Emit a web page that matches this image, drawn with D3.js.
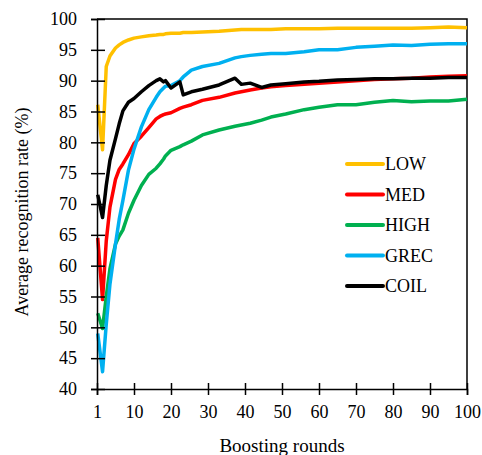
<!DOCTYPE html>
<html>
<head>
<meta charset="utf-8">
<script src="https://cdn.jsdelivr.net/npm/d3@7"></script>
<style>
  body { margin: 0; background: #fff; }
</style>
</head>
<body>
<svg id="chart" width="482" height="455"></svg>
<script>
// boosting round positions on the axis (0 is shown as "1")
const rounds = [0.2, 1.5, 2.5, 3.5, 5, 6, 7, 8.5, 10, 12, 14, 16, 17, 18, 18.5, 20, 22.4, 23.3, 25.5, 28.5, 33, 37.3, 39, 41.4, 44.5, 47, 51, 56, 60, 65, 70, 75, 80, 85, 90, 95, 100]

const low  = [86.1, 78.8, 92.3, 94.0, 95.3, 95.8, 96.2, 96.6, 96.9, 97.1, 97.3, 97.4, 97.5, 97.5, 97.6, 97.7, 97.7, 97.8, 97.8, 97.9, 98.0, 98.2, 98.3, 98.3, 98.3, 98.3, 98.4, 98.4, 98.4, 98.5, 98.5, 98.5, 98.5, 98.5, 98.6, 98.7, 98.6]
const med  = [64.5, 54.5, 64.0, 69.5, 74.0, 75.6, 76.5, 78.0, 79.8, 81.0, 82.4, 83.8, 84.2, 84.5, 84.6, 84.8, 85.5, 85.7, 86.1, 86.8, 87.3, 88.0, 88.2, 88.5, 88.8, 89.0, 89.2, 89.4, 89.6, 89.8, 90.0, 90.2, 90.3, 90.4, 90.6, 90.7, 90.8]
const high = [52.3, 49.8, 55.0, 59.5, 63.5, 64.8, 65.8, 68.5, 70.6, 73.0, 74.8, 75.8, 76.5, 77.3, 77.8, 78.7, 79.3, 79.6, 80.2, 81.2, 82.0, 82.6, 82.8, 83.1, 83.6, 84.1, 84.6, 85.3, 85.7, 86.1, 86.1, 86.5, 86.8, 86.6, 86.7, 86.7, 87.0]
const grec = [49.0, 42.8, 50.5, 57.0, 63.5, 67.5, 70.6, 75.5, 78.9, 82.5, 85.3, 87.3, 88.2, 88.8, 89.1, 89.2, 90.0, 90.6, 91.7, 92.3, 92.8, 93.7, 93.9, 94.1, 94.3, 94.4, 94.4, 94.7, 95.0, 95.0, 95.4, 95.6, 95.8, 95.7, 95.9, 96.0, 96.0]
const coil = [71.5, 67.8, 73.0, 77.1, 80.6, 83.0, 85.1, 86.5, 87.1, 88.2, 89.2, 90.0, 90.3, 89.8, 90.0, 88.8, 89.8, 87.7, 88.2, 88.6, 89.3, 90.4, 89.4, 89.6, 88.9, 89.3, 89.5, 89.8, 89.9, 90.1, 90.2, 90.3, 90.3, 90.4, 90.4, 90.5, 90.5]

const seriesNames = ["LOW", "MED", "HIGH", "GREC", "COIL"]
const seriesColors = ["#FFC000", "#FF0000", "#00B050", "#00B0F0", "#000000"]
const xTicks = [0, 10, 20, 30, 40, 50, 60, 70, 80, 90, 100]
const xTickLabels = ["1", "10", "20", "30", "40", "50", "60", "70", "80", "90", "100"]
const yTicks = [40, 45, 50, 55, 60, 65, 70, 75, 80, 85, 90, 95, 100]

const allSeries = [low, med, high, grec, coil]
const serif = "Liberation Serif, DejaVu Serif, serif"

let margin = {top: 19, right: 15, bottom: 66, left: 97}
  , width = 482 - margin.left - margin.right
  , height = 455 - margin.top - margin.bottom

let svg = d3.select("#chart")
  .append("g")
  .attr("transform", "translate(" + margin.left + "," + margin.top + ")")

let xScale = d3.scaleLinear().domain([0, 100]).range([0, width])
let yScale = d3.scaleLinear().domain([40, 100]).range([height, 0])

// frame (top + right)
svg.append("path")
  .attr("d", "M0,0H" + width + "V" + height)
  .attr("fill", "none")
  .attr("stroke", "#000")
  .attr("stroke-width", 1.5)

let line = d3.line()
  .x((d, i) => xScale(rounds[i]))
  .y(d => yScale(d))

allSeries.forEach((s, k) => {
  svg.append("path")
    .datum(s)
    .attr("fill", "none")
    .attr("stroke", seriesColors[k])
    .attr("stroke-width", 3.5)
    .attr("stroke-linejoin", "round")
    .attr("d", line)
})

// axes with crossing ticks
let xAxis = svg.append("g")
  .attr("transform", "translate(0," + height + ")")
  .call(d3.axisBottom(xScale).tickValues(xTicks)
    .tickFormat((d, i) => xTickLabels[i]).tickSize(6).tickPadding(10))
xAxis.selectAll(".tick line").attr("y1", -6).attr("stroke-width", 1.5)

let yAxis = svg.append("g")
  .call(d3.axisLeft(yScale).tickValues(yTicks).tickSize(6).tickPadding(14))
yAxis.selectAll(".tick line").attr("x1", 8).attr("stroke-width", 1.5)

svg.selectAll(".domain").attr("stroke-width", 1.5)
xAxis.attr("font-family", serif).attr("font-size", 18)
yAxis.attr("font-family", serif).attr("font-size", 18)

// axis titles
svg.append("text")
  .attr("x", width / 2)
  .attr("y", height + 63)
  .attr("text-anchor", "middle")
  .attr("font-family", serif)
  .attr("font-size", 19)
  .text("Boosting rounds")

svg.append("text")
  .attr("transform", "translate(" + (28 - margin.left) + "," + (212 - margin.top) + ") rotate(-90)")
  .attr("text-anchor", "middle")
  .attr("font-family", serif)
  .attr("font-size", 18)
  .text("Average recognition rate (%)")

// legend
let legend = svg.append("g")
  .attr("transform", "translate(" + (347 - margin.left) + "," + (164 - margin.top) + ")")

seriesNames.forEach((name, k) => {
  let g = legend.append("g").attr("transform", "translate(0," + (k * 30.5) + ")")
  g.append("line")
    .attr("x1", 0).attr("x2", 36)
    .attr("stroke", seriesColors[k])
    .attr("stroke-width", 4)
    .attr("stroke-linecap", "round")
  g.append("text")
    .attr("x", 38)
    .attr("y", 6)
    .attr("font-family", serif)
    .attr("font-size", 18)
    .text(name)
})
</script>
</body>
</html>
